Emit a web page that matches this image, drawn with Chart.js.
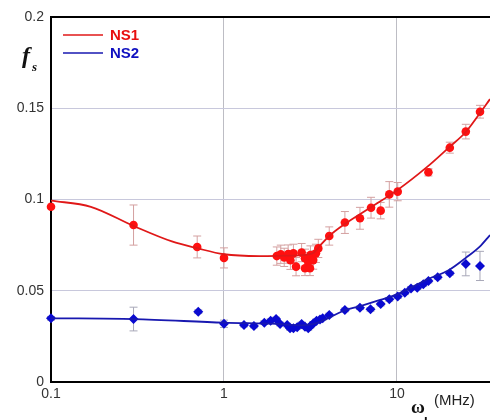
<!DOCTYPE html>
<html>
<head>
<meta charset="utf-8">
<script src="https://cdn.jsdelivr.net/npm/chart.js@4"></script>
<style>
html,body{margin:0;padding:0;background:#fff;}
#wrap{width:490px;height:420px;position:relative;overflow:hidden;}
</style>
</head>
<body>
<div id="wrap"><canvas id="c" width="490" height="420"></canvas></div>
<script>
// ---- data ----
const xTickValues = [0.1, 1, 10];
const xTickLabels = ["0.1", "1", "10"];
const yTickLabels = ["0", "0.05", "0.1", "0.15", "0.2"];

const ns1X = [0.1,0.3,0.7,1.0,2.02,2.13,2.23,2.35,2.42,2.52,2.61,2.81,2.94,3.07,2.94,3.14,3.16,3.28,3.40,3.51,4.06,5.0,6.11,7.08,8.05,9.03,10.1,15.2,20.2,25.0,30.2];
const ns1Y = [0.096,0.086,0.074,0.068,0.069,0.070,0.0683,0.0701,0.0667,0.0705,0.0632,0.0709,0.0678,0.0659,0.0623,0.0623,0.0696,0.0668,0.0705,0.0732,0.080,0.0874,0.0897,0.0955,0.0939,0.1028,0.1043,0.1149,0.1284,0.1372,0.1481];
const ns1Err = [0,0.011,0.006,0.0055,0.005,0.005,0.005,0.005,0.005,0.005,0.005,0.005,0.005,0.005,0.004,0.004,0.005,0.005,0.005,0.005,0.005,0.006,0.006,0.0057,0.0045,0.007,0.005,0.002,0.003,0.004,0.0035];

const ns2X = [0.1,0.3,0.71,1.0,1.305,1.49,1.71,1.86,2.0,2.11,2.32,2.41,2.52,2.65,2.81,2.94,3.07,3.16,3.28,3.43,3.59,3.72,4.06,5.0,6.11,7.03,8.05,9.03,10.1,11.1,12.05,13.1,14.2,15.2,17.2,20.2,25.0,30.2];
const ns2Y = [0.0349,0.0345,0.0385,0.0319,0.0312,0.0307,0.0325,0.0336,0.0345,0.0318,0.0312,0.0294,0.0294,0.030,0.0318,0.0303,0.0294,0.0307,0.0321,0.0336,0.0343,0.0349,0.0367,0.0395,0.0407,0.0398,0.0427,0.0453,0.0468,0.0489,0.0513,0.0517,0.0535,0.0553,0.0574,0.0596,0.0647,0.0636];
const ns2Err = [0.001,0.0065,0.001,0.002,0.001,0.001,0.001,0.001,0.001,0.001,0.001,0.001,0.001,0.001,0.001,0.001,0.001,0.001,0.001,0.001,0.001,0.001,0.001,0.001,0.001,0.001,0.001,0.001,0.001,0.001,0.001,0.001,0.001,0.001,0.001,0.001,0.0065,0.008];

const fit1X = [0.1,0.17,0.3,0.5,0.7,1.0,1.6,2.2,3.0,3.3,3.6,4.06,5.0,7.0,10.0,15.0,20.0,25.0,30.0,34.5];
const fit1Y = [0.0994,0.096,0.0855,0.077,0.0733,0.070,0.069,0.0692,0.0697,0.0708,0.0748,0.080,0.0866,0.0955,0.105,0.118,0.1286,0.137,0.147,0.155];
const fit2X = [0.1,0.3,1.0,2.0,2.8,3.3,4.0,5.0,6.0,8.0,10.0,15.0,20.0,25.0,30.0,34.5];
const fit2Y = [0.0349,0.0345,0.0325,0.0318,0.031,0.0318,0.035,0.0393,0.0413,0.045,0.048,0.0563,0.0614,0.068,0.074,0.0805];

const seriesNames = ["NS1", "NS2"];
// ---------------------------------------

const RED = '#ff1010', RED_LINE = '#e01818';
const BLUE = '#0a0ad0', BLUE_LINE = '#1818b0';

const pts = (xs, ys) => xs.map((x, i) => ({x: x, y: ys[i]}));

const errorBars = {
  id: 'errorBars',
  beforeDatasetsDraw(chart) {
    const ctx = chart.ctx, xs = chart.scales.x, ys = chart.scales.y;
    const sets = [
      {x: ns1X, y: ns1Y, e: ns1Err, c: '#d4a0a0'},
      {x: ns2X, y: ns2Y, e: ns2Err, c: '#a8a8b8'}
    ];
    ctx.save();
    ctx.lineWidth = 1;
    sets.forEach(s => {
      ctx.strokeStyle = s.c;
      s.x.forEach((xv, i) => {
        if (!s.e[i]) return;
        const px = xs.getPixelForValue(xv);
        const y1 = ys.getPixelForValue(s.y[i] - s.e[i]);
        const y2 = ys.getPixelForValue(s.y[i] + s.e[i]);
        ctx.beginPath();
        ctx.moveTo(px, y1); ctx.lineTo(px, y2);
        ctx.moveTo(px - 4, y1); ctx.lineTo(px + 4, y1);
        ctx.moveTo(px - 4, y2); ctx.lineTo(px + 4, y2);
        ctx.stroke();
      });
    });
    ctx.restore();
  }
};

const decorations = {
  id: 'decorations',
  afterDraw(chart) {
    const ctx = chart.ctx;
    ctx.save();
    // legend
    const items = [
      {name: seriesNames[0], line: RED_LINE, text: '#e81010', y: 35},
      {name: seriesNames[1], line: BLUE_LINE, text: '#1010c0', y: 53}
    ];
    items.forEach(it => {
      ctx.strokeStyle = it.line; ctx.lineWidth = 1.5;
      ctx.beginPath(); ctx.moveTo(63, it.y); ctx.lineTo(103, it.y); ctx.stroke();
      ctx.fillStyle = it.text;
      ctx.font = 'bold 15px "Liberation Sans", Arial, sans-serif';
      ctx.textBaseline = 'middle'; ctx.textAlign = 'left';
      ctx.fillText(it.name, 110, it.y + 1);
    });
    // y title f_s
    ctx.fillStyle = '#111';
    ctx.textBaseline = 'alphabetic';
    ctx.font = 'italic bold 24px "Liberation Serif", "DejaVu Serif", serif';
    ctx.fillText('f', 22, 63);
    ctx.font = 'italic bold 13px "Liberation Serif", "DejaVu Serif", serif';
    ctx.fillText('s', 32, 71);
    // x title ω_L (MHz)
    ctx.font = 'bold 19px "Liberation Serif", "DejaVu Serif", serif';
    ctx.fillText('ω', 411, 413);
    ctx.font = 'bold 13px "Liberation Sans", Arial, sans-serif';
    ctx.fillText('L', 424, 426);
    ctx.fillStyle = '#222';
    ctx.font = '15px "Liberation Sans", Arial, sans-serif';
    ctx.fillText('(MHz)', 434, 405);
    ctx.restore();
  }
};

new Chart(document.getElementById('c'), {
  type: 'scatter',
  data: {
    datasets: [
      {label: seriesNames[0] + ' fit', type: 'line', data: pts(fit1X, fit1Y), borderColor: RED_LINE, borderWidth: 1.8,
       pointRadius: 0, fill: false, cubicInterpolationMode: 'monotone'},
      {label: seriesNames[1] + ' fit', type: 'line', data: pts(fit2X, fit2Y), borderColor: BLUE_LINE, borderWidth: 1.8,
       pointRadius: 0, fill: false, cubicInterpolationMode: 'monotone'},
      {label: seriesNames[0], data: pts(ns1X, ns1Y), pointStyle: 'circle', pointRadius: 4.3,
       backgroundColor: RED, borderColor: RED, borderWidth: 0, clip: false},
      {label: seriesNames[1], data: pts(ns2X, ns2Y), pointStyle: 'rectRot', pointRadius: 5,
       backgroundColor: BLUE, borderColor: BLUE, borderWidth: 0, clip: false}
    ]
  },
  options: {
    responsive: false,
    animation: false,
    events: [],
    layout: {autoPadding: false, padding: {top: 17, right: 0, left: 0, bottom: 0}},
    plugins: {legend: {display: false}, tooltip: {enabled: false}},
    scales: {
      x: {
        type: 'logarithmic', min: 0.1, max: 34.5,
        afterBuildTicks: s => { s.ticks = xTickValues.map(v => ({value: v})); },
        afterFit: s => { s.height = 38; s.paddingRight = 0; s.paddingLeft = 0; },
        ticks: {
          autoSkip: false, maxRotation: 0, padding: 4, color: '#333',
          font: {family: '"Liberation Sans", Arial, sans-serif', size: 14},
          callback: (v) => { const i = xTickValues.indexOf(v); return i >= 0 ? xTickLabels[i] : ''; }
        },
        grid: {
          drawTicks: false,
          color: c => (c.tick && c.tick.value === 0.1) ? 'rgba(0,0,0,0)' : '#bdbdc4',
          lineWidth: 1
        },
        border: {color: '#000', width: 2}
      },
      y: {
        min: 0, max: 0.2,
        afterFit: s => { s.width = 51; s.paddingTop = 0; s.paddingBottom = 0; },
        ticks: {
          stepSize: 0.05, padding: 7, color: '#333',
          font: {family: '"Liberation Sans", Arial, sans-serif', size: 14},
          callback: (v, i) => yTickLabels[i]
        },
        grid: {
          drawTicks: false,
          color: c => {
            const v = c.tick ? c.tick.value : null;
            if (v === 0) return 'rgba(0,0,0,0)';
            if (Math.abs(v - 0.2) < 1e-9) return '#000';
            return '#c8c8dc';
          },
          lineWidth: c => (c.tick && Math.abs(c.tick.value - 0.2) < 1e-9) ? 2 : 1
        },
        border: {color: '#000', width: 2}
      }
    }
  },
  plugins: [errorBars, decorations]
});
</script>
</body>
</html>
